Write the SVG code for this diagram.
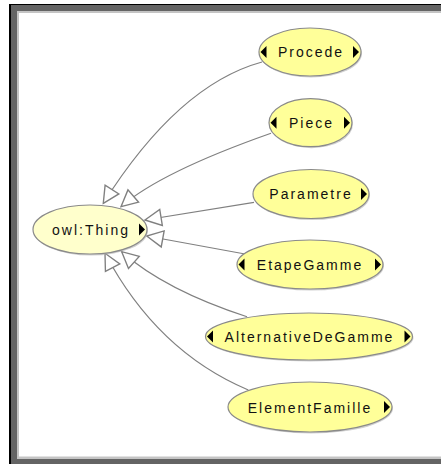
<svg xmlns="http://www.w3.org/2000/svg" xmlns:xlink="http://www.w3.org/1999/xlink" width="441" height="464" viewBox="0 0 441 464">
  <style>
    .node { fill: #ffff99; stroke: #8a8a8a; stroke-width: 1.2; }
    .root { fill: #ffffcc; stroke: #8a8a8a; stroke-width: 1.2; }
    .shadow { fill: #b0b0b0; opacity: 0.6; }
    .label { font-family: "Liberation Sans", Arial, sans-serif; font-size: 14px; letter-spacing: 2px; fill: #111; text-anchor: middle; }
    .edge { fill: none; stroke: #808080; stroke-width: 1.2; marker-end: url(#isa); }
    .tri { fill: #000; }
  </style>
  <defs>
    <!-- hollow "is-a" arrowhead -->
    <marker id="isa" markerUnits="userSpaceOnUse" markerWidth="20" markerHeight="20" refX="14" refY="7" orient="auto" viewBox="0 0 16 14">
      <path d="M14,7 L1,0.5 L1,13.5 Z" fill="#ffffff" stroke="#808080" stroke-width="1.1"/>
    </marker>
    <!-- expand/collapse handles on node sides -->
    <path id="tri-l" d="M0,0 L6,-6 L6,6 Z"/>
    <path id="tri-r" d="M0,0 L-6,-6 L-6,6 Z"/>
  </defs>

  <!-- panel frame -->
  <rect x="9" y="4" width="432" height="460" fill="#000"/>
  <rect x="11" y="5" width="430" height="459" fill="#646464"/>
  <rect x="17" y="11" width="424" height="448" fill="#c4c4c4"/>
  <rect x="19" y="13" width="422" height="443.5" fill="#ffffff"/>

  <!-- subclass links -->
  <g id="edges">
    <path class="edge" d="M262,62 Q178,85 103.3,203.3"/>
    <path class="edge" d="M271,133.3 Q161,172 121,206.7"/>
    <path class="edge" d="M254,202.3 L145,220"/>
    <path class="edge" d="M245,254 L146.7,236"/>
    <path class="edge" d="M247,316.7 Q165,290 121.7,251.7"/>
    <path class="edge" d="M248.3,390 Q157.1,351.6 105,253.3"/>
  </g>

  <g id="owl-Thing">
    <ellipse class="shadow" cx="91" cy="231" rx="57" ry="24.5"/>
    <ellipse class="root" cx="90" cy="229.5" rx="57" ry="24.5"/>
    <text class="label" x="91" y="235">owl:Thing</text>
    <use xlink:href="#tri-r" class="tri" x="145" y="229.5"/>
  </g>

  <g id="Procede">
    <ellipse class="shadow" cx="311" cy="53.5" rx="51" ry="24"/>
    <ellipse class="node" cx="310" cy="52" rx="51" ry="24"/>
    <text class="label" x="311" y="57.3">Procede</text>
    <use xlink:href="#tri-l" class="tri" x="260.5" y="52"/>
    <use xlink:href="#tri-r" class="tri" x="359" y="52"/>
  </g>

  <g id="Piece">
    <ellipse class="shadow" cx="311.5" cy="124.2" rx="41.5" ry="24"/>
    <ellipse class="node" cx="310.5" cy="122.7" rx="41.5" ry="24"/>
    <text class="label" x="311.5" y="128">Piece</text>
    <use xlink:href="#tri-l" class="tri" x="270.5" y="122.7"/>
    <use xlink:href="#tri-r" class="tri" x="350" y="122.7"/>
  </g>

  <g id="Parametre">
    <ellipse class="shadow" cx="312" cy="195.5" rx="58" ry="24.5"/>
    <ellipse class="node" cx="311" cy="194" rx="58" ry="24.5"/>
    <text class="label" x="311" y="199.3">Parametre</text>
    <use xlink:href="#tri-r" class="tri" x="367" y="194"/>
  </g>

  <g id="EtapeGamme">
    <ellipse class="shadow" cx="311" cy="266" rx="73" ry="24.5"/>
    <ellipse class="node" cx="310" cy="264.5" rx="73" ry="24.5"/>
    <text class="label" x="310" y="270">EtapeGamme</text>
    <use xlink:href="#tri-l" class="tri" x="238.5" y="264.5"/>
    <use xlink:href="#tri-r" class="tri" x="381" y="264.5"/>
  </g>

  <g id="AlternativeDeGamme">
    <ellipse class="shadow" cx="310" cy="338" rx="103.5" ry="23.5"/>
    <ellipse class="node" cx="309" cy="336.5" rx="103.5" ry="23.5"/>
    <text class="label" x="309.5" y="342">AlternativeDeGamme</text>
    <use xlink:href="#tri-l" class="tri" x="207" y="336.5"/>
    <use xlink:href="#tri-r" class="tri" x="410.5" y="336.5"/>
  </g>

  <g id="ElementFamille">
    <ellipse class="shadow" cx="311" cy="408.5" rx="82" ry="25"/>
    <ellipse class="node" cx="310" cy="407" rx="82" ry="25"/>
    <text class="label" x="310" y="412.5">ElementFamille</text>
    <use xlink:href="#tri-r" class="tri" x="390" y="407"/>
  </g>
</svg>
